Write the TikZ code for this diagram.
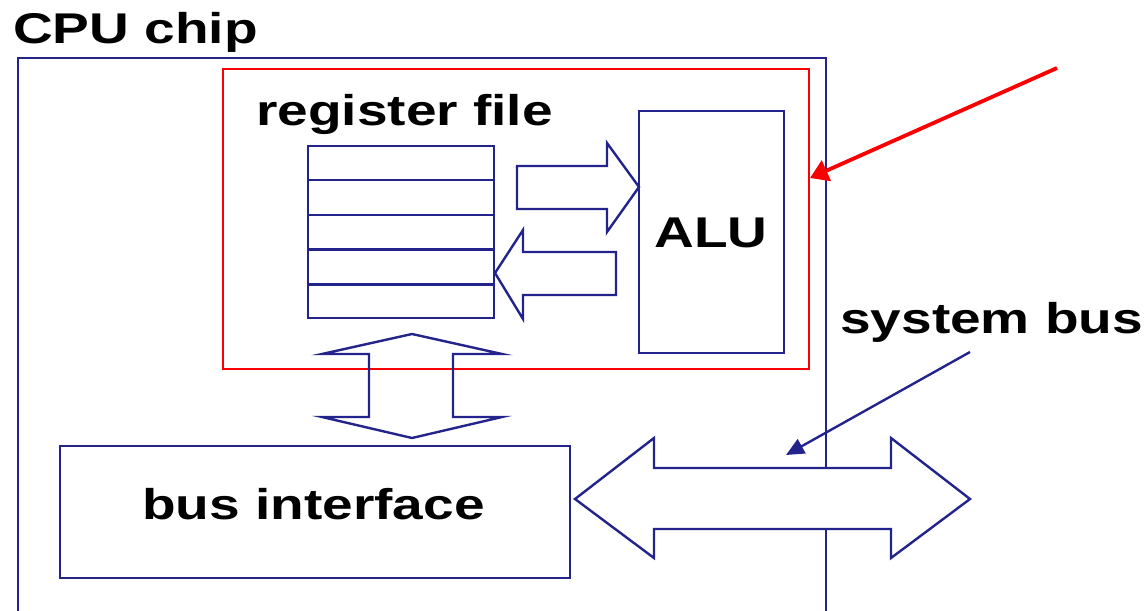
\documentclass[tikz,border=0pt]{standalone}
\usepackage{fontspec}
\newfontfamily\lab{Liberation Sans}[FakeStretch=1.28]
\usetikzlibrary{arrows.meta,calc}
\definecolor{navy}{RGB}{35,35,140}
\definecolor{hilite}{RGB}{250,0,0}
\begin{document}
\begin{tikzpicture}[x=1pt,y=-1pt,
  box/.style={draw=navy,line width=2.4pt,inner sep=0pt},
  lbl/.style={font=\lab\bfseries\fontsize{43}{45}\selectfont,inner sep=0pt,text=black},
  fatarrow/.style={draw=navy,line width=2.4pt,line join=miter,fill=white}]
\useasboundingbox (0,0) rectangle (1147,610);
% CPU chip outline
\draw[box] (18,615) -- (18,58) -- (826,58) -- (826,615);
\node[lbl,anchor=base west] (cpulbl) at (13,44) {CPU chip};
% highlighted core
\node[draw=hilite,line width=2pt,inner sep=0pt,minimum width=586pt,minimum height=300pt,anchor=north west] (core) at (222,68) {};
% register file
\node[lbl,anchor=base west] (rflbl) at (256,125) {register file};
\node[box,minimum width=186pt,minimum height=172pt,anchor=north west] (rf) at (307,145) {};
\foreach \i in {1,...,4}
  \draw[navy,line width=2.4pt] ($(rf.north west)!\i/5!(rf.south west)$) -- ($(rf.north east)!\i/5!(rf.south east)$);
% ALU
\node[box,minimum width=145pt,minimum height=242pt,anchor=north west] (alu) at (638,110) {};
\node[lbl] (alulbl) at (711,233) {ALU};
% register file -> ALU
\draw[fatarrow] (517,166) -- (607,166) -- (607,143) -- (639,187) -- (607,232) -- (607,209) -- (517,209) -- cycle;
% ALU -> register file
\draw[fatarrow] (616,252) -- (523,252) -- (523,230) -- (495,273) -- (523,319) -- (523,295) -- (616,295) -- cycle;
% register file <-> bus interface (outline only: the red line shows through)
\draw[fatarrow,fill=none] (412,334) -- (502,354) -- (453,354) -- (453,417) -- (502,417) -- (412,438) -- (322,417) -- (369,417) -- (369,354) -- (322,354) -- cycle;
% bus interface
\node[box,minimum width=510pt,minimum height=132pt,anchor=north west] (bi) at (59,445) {};
\node[lbl,anchor=base west] (bilbl) at (142,519) {bus interface};
% system bus double arrow
\draw[fatarrow] (575,499) -- (654,438) -- (654,468) -- (891,468) -- (891,438) -- (970,499) -- (891,558) -- (891,529) -- (654,529) -- (654,558) -- cycle;
\coordinate (bustarget) at (786,455);
\node[lbl,anchor=base west] (sblbl) at (840,333) {system bus};
\draw[navy,line width=2.4pt,-{Triangle[length=18pt,width=16pt]}] (970,352) -- (bustarget);
% red pointer
\coordinate (redstart) at (1057,68);
\draw[hilite,line width=3.8pt,-{Triangle[length=18pt,width=22pt]}] (redstart) -- (core.east |- 0,178);
\end{tikzpicture}
\end{document}
